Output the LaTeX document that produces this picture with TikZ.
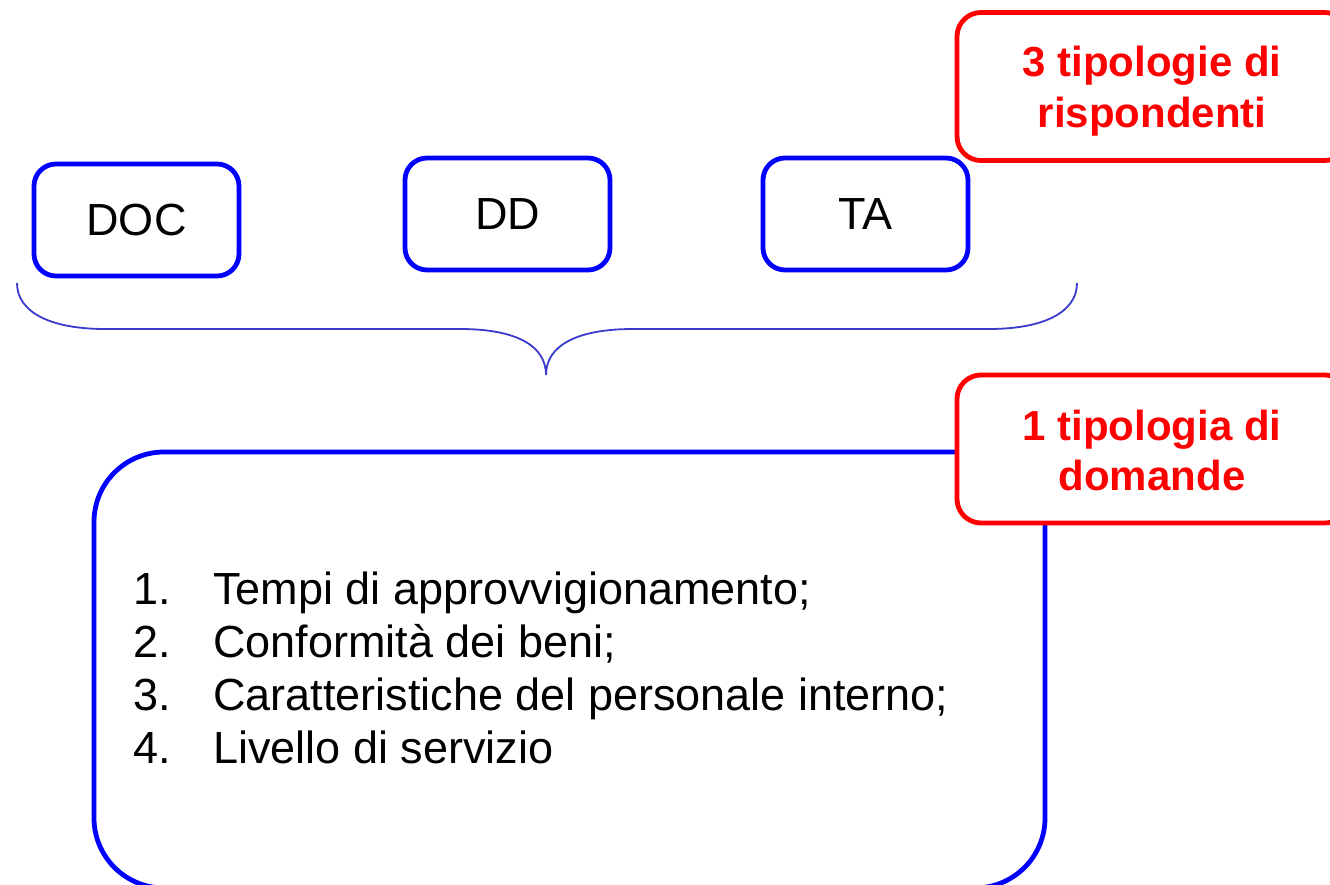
\documentclass[tikz,border=0pt]{standalone}
\usepackage{fontspec}
\setmainfont{Liberation Sans}
\definecolor{boxblue}{RGB}{0,0,255}
\definecolor{bracecol}{RGB}{58,58,204}
\definecolor{boxred}{RGB}{255,0,0}
\begin{document}
\begin{tikzpicture}[x=1pt,y=-1pt,
  resp/.style={draw=boxblue, line width=4.8pt, rounded corners=22pt, minimum width=205pt, minimum height=112pt, inner sep=0pt, fill=white, font=\fontsize{45}{54}\selectfont},
  big/.style={draw=boxblue, line width=4.8pt, rounded corners=70pt, minimum width=951pt, minimum height=436pt, inner sep=0pt},
  note/.style={draw=boxred, line width=4.8pt, rounded corners=24pt, minimum width=392pt, minimum height=148pt, inner sep=0pt, fill=white},
  notetext/.style={anchor=base, inner sep=0pt, text=boxred, font=\fontsize{42}{50}\selectfont\bfseries},
  item/.style={anchor=base west, inner sep=0pt, font=\fontsize{45}{54}\selectfont}]
\useasboundingbox (0,0) rectangle (1330,885);
% respondent boxes
\node[resp] (doc) at (136.5,220) {\raisebox{-2pt}{DOC}};
\node[resp] (dd) at (507.5,214) {\raisebox{-1pt}{DD}};
\node[resp] (ta) at (865.5,214) {\raisebox{-1pt}{TA}};
% brace
\draw[bracecol, line width=1.8pt]
  (17,283) .. controls (17,312) and (50,329) .. (105,329) -- (460,329)
  .. controls (515,329) and (546,345) .. (546,375)
  .. controls (546,345) and (578,329) .. (633,329) -- (989,329)
  .. controls (1044,329) and (1077,312) .. (1077,283);
% big box
\node[big] (questions) at (569.5,670) {};
\node[item] (n1) at (133,604) {1.};
\node[item] (t1) at (213,604) {Tempi di approvvigionamento;};
\node[item] (n2) at (133,657) {2.};
\node[item] (t2) at (213,657) {Conformità dei beni;};
\node[item] (n3) at (133,710) {3.};
\node[item] (t3) at (213,710) {Caratteristiche del personale interno;};
\node[item] (n4) at (133,763) {4.};
\node[item] (t4) at (213,763) {Livello di servizio};
% red notes
\node[note] (note1) at (1153,86.5) {};
\node[notetext] (note1a) at (1152,77) {3 tipologie di};
\node[notetext] (note1b) at (1152,128) {rispondenti};
\node[note] (note2) at (1153,449) {};
\node[notetext] (note2a) at (1152,440) {1 tipologia di};
\node[notetext] (note2b) at (1152,490) {domande};
\end{tikzpicture}
\end{document}
